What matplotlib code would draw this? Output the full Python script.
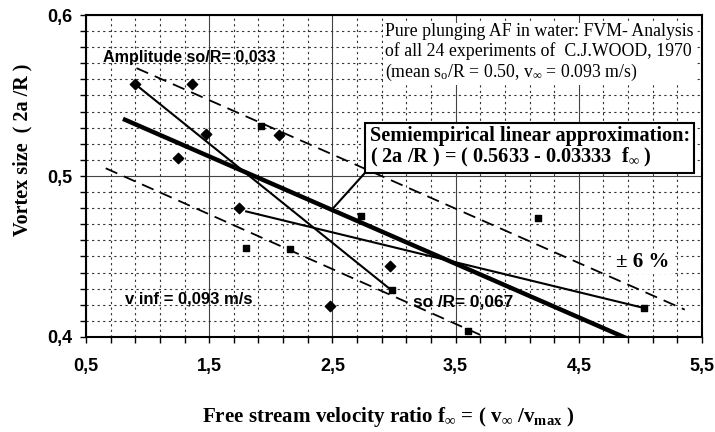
import numpy as np
import matplotlib
matplotlib.use("Agg")
import matplotlib.pyplot as plt

plt.rcParams['mathtext.fontset'] = 'custom'
plt.rcParams['mathtext.rm'] = 'Liberation Serif'
plt.rcParams['mathtext.it'] = 'Liberation Serif:italic'
plt.rcParams['mathtext.bf'] = 'Liberation Serif:bold'

SERIF = ['Liberation Serif', 'DejaVu Serif']
SANS = ['Liberation Sans', 'DejaVu Sans']

# ---- data ----
diamond_x = [0.90, 1.36, 1.47, 1.25, 2.07, 1.74, 2.97, 2.48]
diamond_y = [0.557, 0.557, 0.526, 0.511, 0.5255, 0.480, 0.444, 0.419]
square_x = [1.92, 2.73, 1.80, 2.155, 2.98, 4.17, 3.60, 5.03]
square_y = [0.531, 0.475, 0.455, 0.4547, 0.429, 0.474, 0.404, 0.418]

lineA_x = [0.90, 2.98]
lineA_y = [0.557, 0.429]
lineB_x = [1.80, 5.03]
lineB_y = [0.478, 0.418]
fit_x = [0.80, 5.00]
fit_y = [0.5355, 0.3955]
upper_x = [0.91, 5.36]
upper_y = [0.567, 0.417]
lower_x = [0.66, 3.71]
lower_y = [0.5048, 0.401]

xticks = [0.5, 1.5, 2.5, 3.5, 4.5, 5.5]
xticklabels = ['0,5', '1,5', '2,5', '3,5', '4,5', '5,5']
yticks = [0.4, 0.5, 0.6]
yticklabels = ['0,4', '0,5', '0,6']

fig = plt.figure(figsize=(7.15, 4.32), dpi=100)
ax = fig.add_axes([86/715, 1-337/432, (702-86)/715, (337-15)/432])
ax.set_xlim(0.5, 5.5)
ax.set_ylim(0.4, 0.6)

ax.set_xticks(xticks)
ax.set_xticklabels(xticklabels, fontfamily=SANS, fontweight='bold', fontsize=13)
ax.set_yticks(yticks)
ax.set_yticklabels(yticklabels, fontfamily=SANS, fontweight='bold', fontsize=13)
ax.set_xticks(np.arange(0.5, 5.51, 0.2), minor=True)
ax.set_yticks(np.arange(0.4, 0.601, 0.01), minor=True)
ax.tick_params(axis='both', which='both', direction='out', length=4, width=1, color='black')
ax.tick_params(axis='x', which='major', pad=11)
ax.tick_params(axis='y', which='major', pad=6)

ax.grid(which='major', color='#444444', linewidth=0.8, linestyle='-')
ax.grid(which='minor', color='#333333', linewidth=0.8, linestyle=(0, (2, 3)))
ax.set_axisbelow(True)
for s in ax.spines.values():
    s.set_linewidth(1.5)
    s.set_color('black')

# lines
ax.plot(lineA_x, lineA_y, color='black', lw=1.5, zorder=3)
ax.plot(lineB_x, lineB_y, color='black', lw=1.5, zorder=3)
ax.plot(fit_x, fit_y, color='black', lw=3.2, zorder=3, solid_capstyle='butt')
ax.plot(upper_x, upper_y, color='black', lw=1.3, linestyle=(0, (7, 4)), zorder=3)
ax.plot(lower_x, lower_y, color='black', lw=1.3, linestyle=(0, (7, 4)), zorder=3)

ax.scatter(diamond_x, diamond_y, marker='D', s=28, color='black', zorder=4)
ax.scatter(square_x, square_y, marker='s', s=16, color='black', zorder=4)

# annotation texts
ax.text(0.638, 0.5733, 'Amplitude so/R= 0,033', fontfamily=SANS, fontweight='bold',
        fontsize=11.6, ha='left', va='center', zorder=5)
ax.text(0.816, 0.4236, 'v inf = 0,093 m/s', fontfamily=SANS, fontweight='bold',
        fontsize=12, ha='left', va='center', zorder=5)
ax.text(3.152, 0.4217, 'so /R= 0,067', fontfamily=SANS, fontweight='bold',
        fontsize=12.4, ha='left', va='center', zorder=5)
ax.text(5.02, 0.4468, '± 6 %', fontfamily=SERIF, fontweight='bold',
        fontsize=15, ha='center', va='center', zorder=5,
        bbox=dict(facecolor='white', edgecolor='none', pad=2))

ax.text(2.925, 0.595,
        'Pure plunging AF in water: FVM- Analysis\n'
        'of all 24 experiments of  C.J.WOOD, 1970\n'
        r'(mean s$_\mathrm{o}$/R = 0.50, v$_\infty$ = 0.093 m/s)',
        fontfamily=SERIF, fontsize=12.8, ha='left', va='top',
        linespacing=1.12, zorder=5,
        bbox=dict(facecolor='white', edgecolor='none', pad=1.5))

# callout line
ax.plot([2.5, 2.765], [0.4795, 0.502], color='black', lw=1.5, zorder=3)
ax.text(2.803, 0.5177,
        'Semiempirical linear approximation:\n'
        r'( 2a /R ) = ( 0.5633 - 0.03333  f$_\mathbf{\infty}$ )',
        fontfamily=SERIF, fontweight='bold', fontsize=14.6, ha='left', va='center',
        linespacing=1.0, zorder=6,
        bbox=dict(facecolor='white', edgecolor='black', linewidth=1.5, pad=3))

fig.text(22/715, 1-150/432, 'Vortex size  ( 2a /R )', fontfamily=SERIF, fontweight='bold',
         fontsize=14.5, rotation=90, ha='center', va='center')
fig.text(388/715, 1-417/432,
         r'Free stream velocity ratio f$_\mathbf{\infty}$ = ( v$_\mathbf{\infty}$ /v$_\mathbf{max}$ )',
         fontfamily=SERIF, fontweight='bold', fontsize=15.1, ha='center', va='center')

fig.savefig('out.png', dpi=100)
